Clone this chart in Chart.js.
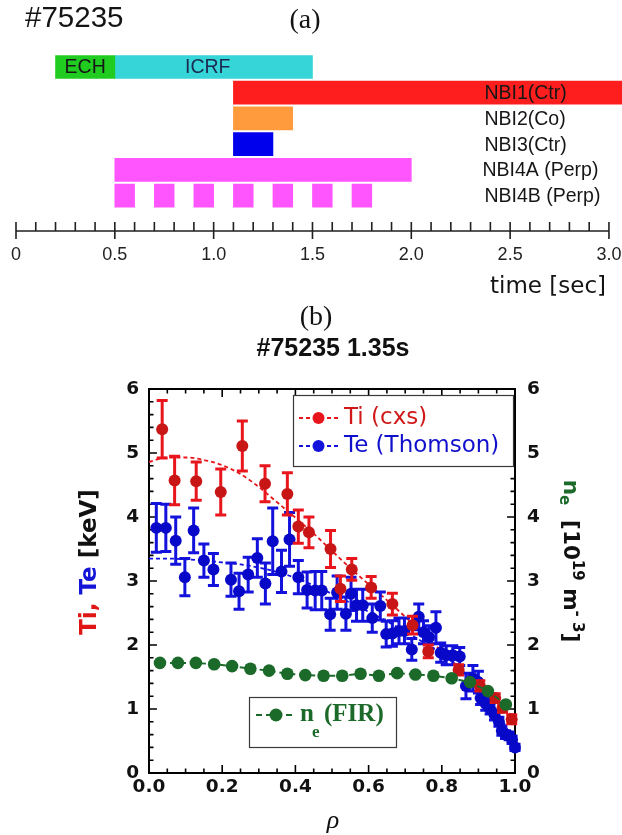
<!DOCTYPE html>
<html>
<head>
<meta charset="utf-8">
<title>#75235 heating sequence and profiles</title>
<script src="https://cdn.jsdelivr.net/npm/chart.js@4.4.1/dist/chart.umd.min.js"></script>
<style>
  html, body { margin: 0; padding: 0; background: #fff; }
  #page { position: relative; width: 622px; height: 835px; overflow: hidden; background: #fff; }
  #timeline { position: absolute; left: 0; top: 0; }
  #profiles { position: absolute; left: 0; top: 300px; }
</style>
</head>
<body>
<div id="page">
  <canvas id="timeline" width="622" height="300"></canvas>
  <canvas id="profiles" width="622" height="535"></canvas>
</div>
<script>
// ---------- (a) heating sequence ----------
const timeTicks  = [0, 0.5, 1.0, 1.5, 2.0, 2.5, 3.0];
const systems    = ['ECH', 'ICRF', 'NBI1(Ctr)', 'NBI2(Co)', 'NBI3(Ctr)', 'NBI4A (Perp)', 'NBI4B (Perp)'];
const systemRow  = [0, 0, 1, 2, 3, 4, 5];
const pulseOn    = [[0.2], [0.5], [1.1], [1.1], [1.1], [0.5], [0.5, 0.7, 0.9, 1.1, 1.3, 1.5, 1.7]];
const pulseOff   = [[0.5], [1.5], [3.1], [1.4], [1.3], [2.0], [0.6, 0.8, 1.0, 1.2, 1.4, 1.6, 1.8]];

// ---------- (b) profiles at 1.35 s ----------
const rhoTicks = [0, 0.2, 0.4, 0.6, 0.8, 1.0];
const keVTicks = [0, 1, 2, 3, 4, 5, 6];
const neTicks  = [0, 1, 2, 3, 4, 5, 6];

const tiRho = [0.036, 0.070, 0.129, 0.196, 0.255, 0.317, 0.378, 0.408, 0.437, 0.496, 0.523, 0.554, 0.607, 0.665, 0.720, 0.763, 0.846, 0.904, 0.946, 0.966, 0.991];
const tiKeV = [5.37, 4.57, 4.56, 4.39, 5.11, 4.52, 4.36, 3.85, 3.76, 3.50, 2.88, 3.18, 2.90, 2.64, 2.31, 1.90, 1.61, 1.36, 1.17, 1.02, 0.84];
const tiErr = [0.45, 0.38, 0.30, 0.36, 0.39, 0.28, 0.33, 0.26, 0.24, 0.29, 0.20, 0.17, 0.17, 0.17, 0.14, 0.10, 0.08, 0.08, 0.07, 0.07, 0.07];

const teRho = [0.020, 0.046, 0.073, 0.098, 0.122, 0.150, 0.176, 0.224, 0.246, 0.271, 0.296, 0.318, 0.338, 0.362, 0.384, 0.408, 0.432, 0.454, 0.472, 0.495,
               0.514, 0.538, 0.552, 0.567, 0.584, 0.610, 0.632, 0.648, 0.665, 0.683, 0.698, 0.718, 0.737, 0.750, 0.765, 0.784, 0.797, 0.812, 0.830, 0.849,
               0.866, 0.885, 0.900, 0.906, 0.920, 0.932, 0.944, 0.956, 0.964, 0.974, 0.984, 0.992, 1.000];
const teKeV = [3.83, 3.83, 3.63, 3.06, 3.79, 3.32, 3.18, 3.02, 2.84, 3.10, 3.36, 2.96, 3.62, 3.15, 3.65, 3.06, 2.86, 2.85, 2.85, 2.48,
               2.82, 2.49, 2.80, 2.62, 2.62, 2.42, 2.61, 2.17, 2.18, 2.22, 2.22, 1.93, 2.44, 2.20, 2.12, 2.27, 1.88, 1.84, 1.84, 1.82,
               1.36, 1.48, 1.42, 1.17, 1.08, 1.00, 0.91, 0.80, 0.66, 0.60, 0.58, 0.52, 0.40];
const teErr = [0.38, 0.37, 0.37, 0.29, 0.35, 0.26, 0.25, 0.26, 0.28, 0.27, 0.30, 0.32, 0.52, 0.33, 0.42, 0.26, 0.28, 0.30, 0.30, 0.25,
               0.26, 0.26, 0.26, 0.25, 0.25, 0.22, 0.22, 0.20, 0.20, 0.20, 0.20, 0.17, 0.20, 0.18, 0.18, 0.25, 0.15, 0.15, 0.15, 0.14,
               0.20, 0.20, 0.17, 0.10, 0.10, 0.08, 0.08, 0.07, 0.07, 0.06, 0.06, 0.06, 0.05];

const neRho = [0.030, 0.079, 0.128, 0.178, 0.227, 0.277, 0.328, 0.378, 0.427, 0.477, 0.528, 0.578, 0.628, 0.678, 0.728, 0.777, 0.827, 0.877, 0.926, 0.975];
const neVal = [1.72, 1.72, 1.72, 1.70, 1.67, 1.63, 1.60, 1.55, 1.53, 1.52, 1.52, 1.55, 1.52, 1.56, 1.54, 1.52, 1.48, 1.42, 1.28, 1.07];

const fitRho = [0, 0.05, 0.10, 0.15, 0.20, 0.25, 0.30, 0.35, 0.40, 0.45, 0.50, 0.55, 0.60, 0.65, 0.70, 0.75, 0.80, 0.85, 0.90, 0.95, 1.00];
const tiFit  = [4.86, 4.93, 4.93, 4.89, 4.81, 4.67, 4.47, 4.23, 3.99, 3.74, 3.47, 3.20, 2.95, 2.70, 2.44, 2.17, 1.90, 1.63, 1.37, 1.11, 0.85];
const teFit  = [3.35, 3.35, 3.34, 3.32, 3.29, 3.26, 3.21, 3.14, 3.05, 2.93, 2.80, 2.66, 2.52, 2.37, 2.21, 2.04, 1.86, 1.63, 1.35, 0.98, 0.45];

// ---------- styling ----------
const SANS  = "'Liberation Sans', Arial, sans-serif";
const DEJA  = "'DejaVu Sans', sans-serif";
const SERIF = "'Liberation Serif', 'Times New Roman', serif";
const systemColor = ['#20cc20', '#35d5d8', '#ff1e1e', '#ff9a3d', '#0000ec', '#ff55ff', '#ff55ff'];
const RED = '#e8161c', RED_DOT = '#c81616';
const BLUE = '#1212dc', BLUE_DOT = '#0808c8';
const GREEN = '#1c6a2a';

const pts = (xs, ys) => xs.map((x, i) => ({ x: x, y: ys[i] }));

function fixTicks(list) {
  return scale => { scale.ticks = list.map(v => ({ value: v })); };
}

// ---- (a) decorations: time axis, ticks and labels ----
const timelineDecor = {
  id: 'timelineDecor',
  afterDraw(chart) {
    const { ctx, chartArea } = chart;
    const x = chart.scales.x, y = chart.scales.y;
    const yAx = chartArea.bottom;
    ctx.save();
    ctx.strokeStyle = '#202020';
    ctx.lineWidth = 1.6;
    ctx.beginPath();
    ctx.moveTo(x.getPixelForValue(0), yAx);
    ctx.lineTo(x.getPixelForValue(3.0), yAx);
    for (let k = 0; k <= 30; k++) {
      const px = x.getPixelForValue(k / 10);
      const major = k % 5 === 0;
      ctx.moveTo(px, yAx - 9);
      ctx.lineTo(px, major ? yAx + 8 : yAx);
    }
    ctx.stroke();

    // system labels
    const labelAt = [0.35, 0.97, 2.37, 2.37, 2.37, 2.36, 2.37];
    ctx.textBaseline = 'middle';
    ctx.font = '19.5px ' + SANS;
    systems.forEach((name, i) => {
      const px = x.getPixelForValue(labelAt[i]);
      const py = y.getPixelForValue(systemRow[i]) + 1;
      ctx.textAlign = i < 2 ? 'center' : 'left';
      ctx.fillStyle = i === 1 ? '#1b2a50' : '#161616';
      ctx.fillText(name, px, py);
    });

    ctx.textAlign = 'left';
    ctx.fillStyle = '#141414';
    ctx.font = '29.5px ' + SANS;
    ctx.fillText('#75235', 25, 19);
    ctx.textAlign = 'center';
    ctx.font = '28px ' + SERIF;
    ctx.fillText('(a)', 305, 21);
    ctx.textAlign = 'right';
    ctx.font = '23px ' + DEJA;
    ctx.fillText('time [sec]', 606, 287);
    ctx.restore();
  }
};

new Chart(document.getElementById('timeline'), {
  type: 'bar',
  data: {
    datasets: systems.map((name, i) => ({
      label: name,
      data: pulseOn[i].map((t0, k) => ({ x: [t0, pulseOff[i][k]], y: systemRow[i] })),
      backgroundColor: systemColor[i],
      borderWidth: 0,
      borderSkipped: false,
      barThickness: 23,
      grouped: false
    }))
  },
  options: {
    responsive: false,
    animation: false,
    indexAxis: 'y',
    layout: { padding: { left: 16, right: 0, top: 42.3, bottom: 0 } },
    plugins: { legend: { display: false }, tooltip: { enabled: false } },
    scales: {
      x: {
        type: 'linear', min: 0, max: 3.066, position: 'bottom',
        grid: { display: false, drawTicks: false },
        border: { display: false },
        afterBuildTicks: fixTicks(timeTicks),
        ticks: {
          autoSkip: false, maxRotation: 0, padding: 13.5, color: '#222',
          font: { family: SANS, size: 18 },
          callback: v => (v === 0 ? '0' : v.toFixed(1))
        },
        afterFit(s) { s.height = 69; s.paddingLeft = 0; s.paddingRight = 0; }
      },
      y: { type: 'linear', display: false, reverse: true, min: -0.5, max: 5.918 }
    }
  },
  plugins: [timelineDecor]
});

// ---- (b) decorations: frame, inner ticks, error bars, legends, titles ----
function drawRich(ctx, cx, cy, angle, parts) {
  ctx.save();
  ctx.translate(cx, cy);
  ctx.rotate(angle);
  ctx.textBaseline = 'middle';
  ctx.textAlign = 'left';
  let total = 0;
  parts.forEach(p => { ctx.font = p.font; p.w = ctx.measureText(p.text).width; total += p.w; });
  let px = -total / 2;
  parts.forEach(p => {
    ctx.font = p.font;
    ctx.fillStyle = p.color;
    ctx.fillText(p.text, px, p.dy || 0);
    px += p.w;
  });
  ctx.restore();
}

function legendSample(ctx, x0, x1, y, color, dash, r) {
  ctx.save();
  ctx.strokeStyle = color;
  ctx.lineWidth = 2;
  ctx.setLineDash(dash);
  ctx.beginPath();
  ctx.moveTo(x0, y);
  ctx.lineTo(x1, y);
  ctx.stroke();
  ctx.setLineDash([]);
  ctx.fillStyle = color;
  ctx.beginPath();
  ctx.arc((x0 + x1) / 2, y, r, 0, Math.PI * 2);
  ctx.fill();
  ctx.restore();
}

const profileDecor = {
  id: 'profileDecor',
  beforeDatasetsDraw(chart) {
    const { ctx, chartArea: a } = chart;
    const x = chart.scales.x, y = chart.scales.y;
    ctx.save();
    ctx.strokeStyle = '#000';
    ctx.lineWidth = 1.6;
    ctx.beginPath();
    for (let k = 0; k <= 20; k++) {
      const px = x.getPixelForValue(k * 0.05);
      const len = k % 4 === 0 ? 8 : 4.5;
      ctx.moveTo(px, a.bottom); ctx.lineTo(px, a.bottom - len);
      ctx.moveTo(px, a.top); ctx.lineTo(px, a.top + len);
    }
    for (let k = 0; k <= 30; k++) {
      const py = y.getPixelForValue(k * 0.2);
      const len = k % 5 === 0 ? 8 : 4.5;
      ctx.moveTo(a.left, py); ctx.lineTo(a.left + len, py);
      ctx.moveTo(a.right, py); ctx.lineTo(a.right - len, py);
    }
    ctx.stroke();
    ctx.lineWidth = 2;
    ctx.strokeRect(a.left, a.top, a.right - a.left, a.bottom - a.top);
    ctx.restore();
  },
  beforeDatasetDraw(chart, args) {
    const ds = chart.data.datasets[args.index];
    if (!ds.errors) return;
    const { ctx } = chart;
    const x = chart.scales.x, y = chart.scales[ds.yAxisID || 'y'];
    ctx.save();
    ctx.strokeStyle = ds.errorColor;
    ctx.lineWidth = 3;
    ctx.beginPath();
    ds.data.forEach((p, i) => {
      const px = x.getPixelForValue(p.x);
      const yLo = y.getPixelForValue(p.y - ds.errors[i]);
      const yHi = y.getPixelForValue(p.y + ds.errors[i]);
      ctx.moveTo(px, yLo); ctx.lineTo(px, yHi);
      ctx.moveTo(px - 5.5, yLo); ctx.lineTo(px + 5.5, yLo);
      ctx.moveTo(px - 5.5, yHi); ctx.lineTo(px + 5.5, yHi);
    });
    ctx.stroke();
    ctx.restore();
  },
  afterDraw(chart) {
    const { ctx } = chart;
    ctx.save();
    // Ti / Te legend
    ctx.fillStyle = '#fff';
    ctx.fillRect(293, 95, 221, 72);
    ctx.strokeStyle = '#3a3a3a';
    ctx.lineWidth = 1.2;
    ctx.strokeRect(293.5, 95.5, 220, 71);
    legendSample(ctx, 299, 338, 118, RED, [4, 3], 6);
    legendSample(ctx, 299, 338, 146, BLUE, [4, 3], 6);
    ctx.font = '23px ' + DEJA;
    ctx.textAlign = 'left';
    ctx.textBaseline = 'middle';
    ctx.fillStyle = '#d01818';
    ctx.fillText('Ti (cxs)', 344, 118);
    ctx.fillStyle = '#1010cc';
    ctx.fillText('Te (Thomson)', 344, 146);

    // density legend
    ctx.fillStyle = '#fff';
    ctx.fillRect(249, 397, 148, 51);
    ctx.strokeStyle = '#3a3a3a';
    ctx.strokeRect(249.5, 397.5, 147, 50);
    legendSample(ctx, 256, 296, 415, GREEN, [6, 4], 6.5);
    ctx.fillStyle = GREEN;
    ctx.textBaseline = 'alphabetic';
    ctx.font = 'bold 25px ' + SERIF;
    ctx.fillText('n', 300, 421);
    ctx.font = 'bold 17px ' + SERIF;
    ctx.fillText('e', 312, 437);
    ctx.font = 'bold 25px ' + SERIF;
    ctx.fillText('(FIR)', 324, 421);

    // titles
    ctx.fillStyle = '#111';
    ctx.textAlign = 'center';
    ctx.textBaseline = 'middle';
    ctx.font = '28px ' + SERIF;
    ctx.fillText('(b)', 316, 18);
    ctx.font = 'bold 25px ' + SANS;
    ctx.fillText('#75235 1.35s', 333, 49);
    ctx.font = 'italic 26px ' + SERIF;
    ctx.fillText('\u03C1', 333, 521);
    ctx.restore();

    const B = 'bold 23px ' + DEJA;
    drawRich(ctx, 90, 262, -Math.PI / 2, [
      { text: 'Ti,', font: B, color: '#e01515' },
      { text: ' Te', font: B, color: '#1515d8' },
      { text: ' [keV]', font: B, color: '#111' }
    ]);
    const R = 'bold 21.5px ' + DEJA, S = 'bold 15px ' + DEJA;
    drawRich(ctx, 570, 261, Math.PI / 2, [
      { text: 'n', font: R, color: GREEN },
      { text: 'e', font: S, color: GREEN, dy: 6 },
      { text: '  [10', font: R, color: '#111' },
      { text: '19', font: S, color: '#111', dy: -7 },
      { text: ' m', font: R, color: '#111' },
      { text: '- 3', font: S, color: '#111', dy: -7 },
      { text: ']', font: R, color: '#111' }
    ]);
  }
};

const tickFont = { family: DEJA, size: 18.5, weight: 'bold' };

new Chart(document.getElementById('profiles'), {
  type: 'scatter',
  data: {
    datasets: [
      {
        label: 'ne (FIR)', yAxisID: 'yNe', order: 0,
        data: pts(neRho, neVal),
        showLine: true, borderColor: GREEN, borderWidth: 2, borderDash: [6, 4],
        pointRadius: 6.3, pointBackgroundColor: GREEN, pointBorderWidth: 0, clip: false
      },
      {
        label: 'Ti (cxs)', yAxisID: 'y', order: 1,
        data: pts(tiRho, tiKeV), errors: tiErr, errorColor: RED,
        showLine: false, pointRadius: 6, pointBackgroundColor: RED_DOT, pointBorderWidth: 0, clip: false
      },
      {
        label: 'Te (Thomson)', yAxisID: 'y', order: 2,
        data: pts(teRho, teKeV), errors: teErr, errorColor: BLUE,
        showLine: false, pointRadius: 6, pointBackgroundColor: BLUE_DOT, pointBorderWidth: 0, clip: false
      },
      {
        label: 'Ti fit', yAxisID: 'y', order: 3,
        data: pts(fitRho, tiFit),
        showLine: true, borderColor: RED, borderWidth: 1.8, borderDash: [4, 3],
        pointRadius: 0, tension: 0.4, cubicInterpolationMode: 'monotone'
      },
      {
        label: 'Te fit', yAxisID: 'y', order: 4,
        data: pts(fitRho, teFit),
        showLine: true, borderColor: BLUE, borderWidth: 1.8, borderDash: [4, 3],
        pointRadius: 0, tension: 0.4, cubicInterpolationMode: 'monotone'
      }
    ]
  },
  options: {
    responsive: false,
    animation: false,
    layout: { padding: { left: 0, right: 0, top: 89, bottom: 0 } },
    plugins: { legend: { display: false }, tooltip: { enabled: false } },
    scales: {
      x: {
        type: 'linear', min: 0, max: 1, position: 'bottom',
        grid: { display: false, drawTicks: false }, border: { display: false },
        afterBuildTicks: fixTicks(rhoTicks),
        ticks: { autoSkip: false, maxRotation: 0, padding: 3.5, color: '#111', font: tickFont,
                 callback: v => v.toFixed(1) },
        afterFit(s) { s.height = 62; s.paddingLeft = 0; s.paddingRight = 0; }
      },
      y: {
        type: 'linear', min: 0, max: 6, position: 'left',
        grid: { display: false, drawTicks: false }, border: { display: false },
        afterBuildTicks: fixTicks(keVTicks),
        ticks: { padding: 10, color: '#111', font: tickFont, callback: v => String(v) },
        afterFit(s) { s.width = 149; s.paddingTop = 0; s.paddingBottom = 0; }
      },
      yNe: {
        type: 'linear', min: 0, max: 6, position: 'right',
        grid: { display: false, drawTicks: false }, border: { display: false },
        afterBuildTicks: fixTicks(neTicks),
        ticks: { padding: 12, color: '#111', font: tickFont, callback: v => String(v) },
        afterFit(s) { s.width = 107; s.paddingTop = 0; s.paddingBottom = 0; }
      }
    }
  },
  plugins: [profileDecor]
});
</script>
</body>
</html>
